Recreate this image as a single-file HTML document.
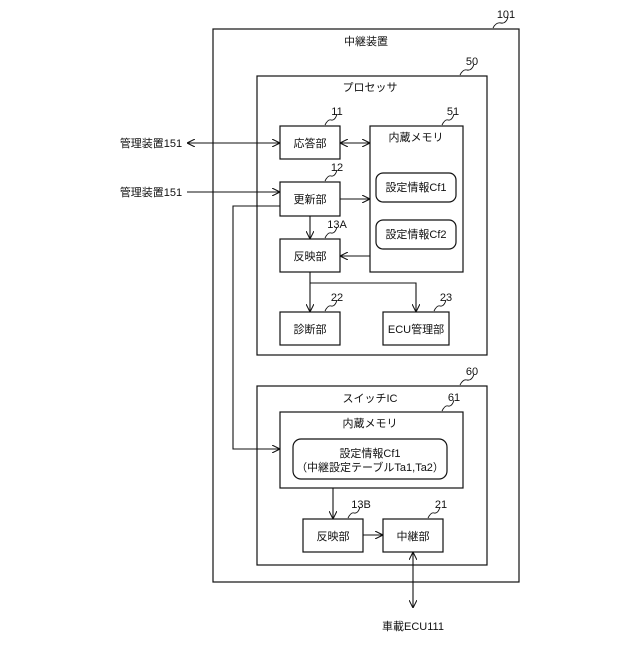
<!DOCTYPE html>
<html><head><meta charset="utf-8"><style>
html,body{margin:0;padding:0;background:#fff}
svg text{font-family:"Liberation Sans","Noto Sans CJK JP",sans-serif;font-size:11px;fill:#111;text-anchor:middle}
</style></head><body>
<svg width="640" height="640" viewBox="0 0 640 640" xmlns="http://www.w3.org/2000/svg">
<defs>
<marker id="a" viewBox="0 0 10 10" refX="10" refY="5" markerWidth="8" markerHeight="8" orient="auto-start-reverse" markerUnits="userSpaceOnUse">
<path d="M0,0 L10,5 L0,10" fill="none" stroke="#111" stroke-width="1.3"/>
</marker>
</defs>
<g fill="none" stroke="#111" stroke-width="1.2">
<rect x="213" y="29" width="306" height="553"/>
<rect x="257" y="76" width="230" height="279"/>
<rect x="280" y="126" width="60" height="33"/>
<rect x="370" y="126" width="93" height="146"/>
<rect x="376" y="173" width="80" height="29" rx="7"/>
<rect x="376" y="220" width="80" height="29" rx="7"/>
<rect x="280" y="182" width="60" height="34"/>
<rect x="280" y="239" width="60" height="33"/>
<rect x="280" y="312" width="60" height="33"/>
<rect x="383" y="312" width="66" height="33"/>
<rect x="257" y="386" width="230" height="179"/>
<rect x="280" y="412" width="183" height="76"/>
<rect x="293" y="439" width="154" height="40" rx="8"/>
<rect x="303" y="519" width="60" height="33"/>
<rect x="383" y="519" width="60" height="33"/>
</g>
<g fill="none" stroke="#111" stroke-width="1.1" marker-end="url(#a)">
<line x1="187" y1="143" x2="280" y2="143" marker-start="url(#a)"/>
<line x1="187" y1="192" x2="280" y2="192"/>
<line x1="340" y1="143" x2="370" y2="143" marker-start="url(#a)"/>
<line x1="340" y1="199" x2="370" y2="199"/>
<polyline points="280,206 233,206 233,449 280,449"/>
<line x1="310" y1="216" x2="310" y2="239"/>
<line x1="370" y1="256" x2="340" y2="256"/>
<line x1="310" y1="272" x2="310" y2="312"/>
<polyline points="310,283 416,283 416,312"/>
<line x1="333" y1="488" x2="333" y2="519"/>
<line x1="363" y1="535" x2="383" y2="535"/>
<line x1="413" y1="552" x2="413" y2="608" marker-start="url(#a)"/>
</g>
<g fill="none" stroke="#111" stroke-width="0.9">
<path d="M493,28 q3,-6 8,-5 q5,1 7,-6"/>
<path d="M460,75 q3,-6 7,-5 q5,1 7,-6"/>
<path d="M325,125 q3,-6 6,-5 q4,1 6,-6"/>
<path d="M442,125 q3,-6 6,-5 q4,1 6,-6"/>
<path d="M325,181 q3,-6 6,-5 q4,1 6,-6"/>
<path d="M325,238 q3,-6 6,-5 q4,1 6,-6"/>
<path d="M325,311 q3,-6 6,-5 q4,1 6,-6"/>
<path d="M434,311 q3,-6 6,-5 q4,1 6,-6"/>
<path d="M460,385 q3,-6 7,-5 q5,1 7,-6"/>
<path d="M442,411 q3,-6 6,-5 q4,1 6,-6"/>
<path d="M348,518 q3,-6 6,-5 q4,1 6,-6"/>
<path d="M428,518 q3,-6 6,-5 q4,1 6,-6"/>
</g>
<text x="506" y="18">101</text>
<text x="366" y="45">中継装置</text>
<text x="472" y="65">50</text>
<text x="370" y="91">プロセッサ</text>
<text x="337" y="115">11</text>
<text x="453" y="115">51</text>
<text x="310" y="147">応答部</text>
<text x="416" y="141">内蔵メモリ</text>
<text x="416" y="191">設定情報Cf1</text>
<text x="416" y="238">設定情報Cf2</text>
<text x="151" y="147">管理装置151</text>
<text x="151" y="196">管理装置151</text>
<text x="337" y="171">12</text>
<text x="310" y="203">更新部</text>
<text x="337" y="228">13A</text>
<text x="310" y="260">反映部</text>
<text x="337" y="301">22</text>
<text x="446" y="301">23</text>
<text x="310" y="333">診断部</text>
<text x="416" y="333">ECU管理部</text>
<text x="472" y="375">60</text>
<text x="370" y="402">スイッチIC</text>
<text x="454" y="401">61</text>
<text x="370" y="427">内蔵メモリ</text>
<text x="370" y="457">設定情報Cf1</text>
<text x="370" y="471">（中継設定テーブルTa1,Ta2）</text>
<text x="361" y="508">13B</text>
<text x="441" y="508">21</text>
<text x="333" y="540">反映部</text>
<text x="413" y="540">中継部</text>
<text x="413" y="630">車載ECU111</text>
</svg>
</body></html>
